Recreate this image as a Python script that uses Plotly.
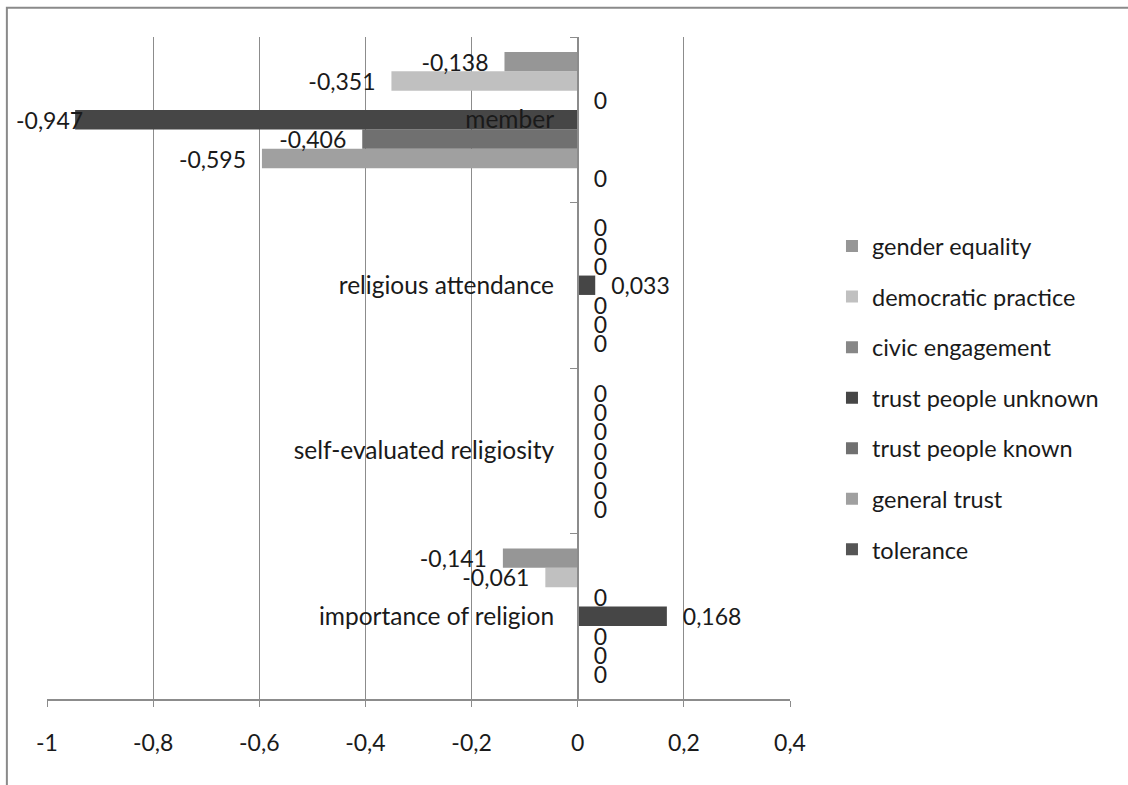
import plotly.graph_objects as go

# Categories, listed bottom to top as they appear on the axis
categories = ["importance of religion", "self-evaluated religiosity",
              "religious attendance", "member"]

# Series values per category (same order as categories)
tolerance = [0, 0, 0, 0]
general_trust = [0, 0, 0, -0.595]
trust_people_known = [0, 0, 0, -0.406]
trust_people_unknown = [0.168, 0, 0.033, -0.947]
civic_engagement = [0, 0, 0, 0]
democratic_practice = [-0.061, 0, 0, -0.351]
gender_equality = [-0.141, 0, 0, -0.138]

# Value-axis ticks
x_tickvals = [-1, -0.8, -0.6, -0.4, -0.2, 0, 0.2, 0.4]
x_ticktext = ["-1", "-0,8", "-0,6", "-0,4", "-0,2", "0", "0,2", "0,4"]

# Series drawn from the bottom of each group upwards
series = [
    ("tolerance", tolerance, "#555555"),
    ("general trust", general_trust, "#a0a0a0"),
    ("trust people known", trust_people_known, "#707070"),
    ("trust people unknown", trust_people_unknown, "#464646"),
    ("civic engagement", civic_engagement, "#878787"),
    ("democratic practice", democratic_practice, "#c0c0c0"),
    ("gender equality", gender_equality, "#969696"),
]

FONT = "Lato, Carlito, Calibri, sans-serif"
TEXT = "#1a1a1a"
GRID = "#8c8c8c"
LABEL_SIZE = 23
x_min, x_max = -1, 0.4

GAP = "\u2002\u200a"  # breathing room between a bar end and its label


def fmt(v):
    s = f"{v:.3f}".rstrip("0").rstrip(".")
    if s in ("-0", ""):
        s = "0"
    return s.replace(".", ",")


def near_edge(v):
    # negative labels that would run past the left frame
    return v < 0 and v - 0.1 < x_min


fig = go.Figure()
annotations = []
n = len(series)
mid = n // 2
for i, (name, vals, color) in enumerate(series):
    texts = []
    for cat, v in zip(categories, vals):
        if near_edge(v):
            texts.append("")
            if i == mid:  # middle series sits on the category centre line
                annotations.append(dict(
                    x=v, y=cat, xref="x", yref="y", text=fmt(v),
                    showarrow=False, xanchor="right", xshift=10,
                    font=dict(family=FONT, size=LABEL_SIZE, color=TEXT),
                ))
        elif v < 0:
            texts.append(fmt(v) + GAP)
        else:
            texts.append(GAP + fmt(v))
    fig.add_trace(go.Bar(
        y=categories, x=vals, name=name, orientation="h",
        marker=dict(color=color, line=dict(width=0)),
        text=texts, textposition="outside",
        constraintext="none", cliponaxis=False,
        textfont=dict(family=FONT, size=LABEL_SIZE, color=TEXT),
        legendgroup=name, legendrank=n - i,
    ))

zero_pos = (0 - x_min) / (x_max - x_min)

fig.update_layout(
    width=1128, height=785,
    margin=dict(l=47, r=338, t=37, b=86),
    paper_bgcolor="white", plot_bgcolor="white",
    barmode="group", bargap=0.18, bargroupgap=0,
    separators=", ",
    font=dict(family=FONT, size=LABEL_SIZE, color=TEXT),
    showlegend=True,
    legend=dict(
        x=1.0565, xanchor="left", y=0.455, yanchor="middle",
        traceorder="grouped", tracegroupgap=17,
        font=dict(family=FONT, size=23.5, color=TEXT),
        itemwidth=30, bgcolor="rgba(0,0,0,0)",
    ),
    xaxis=dict(
        range=[x_min, x_max], tickvals=x_tickvals, ticktext=x_ticktext,
        showgrid=True, gridcolor=GRID, gridwidth=1,
        zeroline=False, showline=True, linecolor=GRID, linewidth=1.5,
        ticks="outside", ticklen=6, tickcolor=GRID,
        ticklabelstandoff=17,
        tickfont=dict(family=FONT, size=LABEL_SIZE, color=TEXT),
    ),
    yaxis=dict(
        type="category", anchor="free", position=zero_pos,
        showgrid=False, zeroline=False,
        showline=True, linecolor=GRID, linewidth=1.5,
        ticks="outside", tickson="boundaries", ticklen=7, tickcolor=GRID,
        ticklabelstandoff=18,
        tickfont=dict(family=FONT, size=24.5, color=TEXT),
    ),
    annotations=annotations,
    shapes=[dict(
        type="rect", xref="paper", yref="paper",
        x0=-0.054, x1=1.6, y0=-0.2, y1=1.044,
        line=dict(color="#8a8a8a", width=2), fillcolor="rgba(0,0,0,0)",
        layer="below",
    )],
)

fig.write_html("out.html")
